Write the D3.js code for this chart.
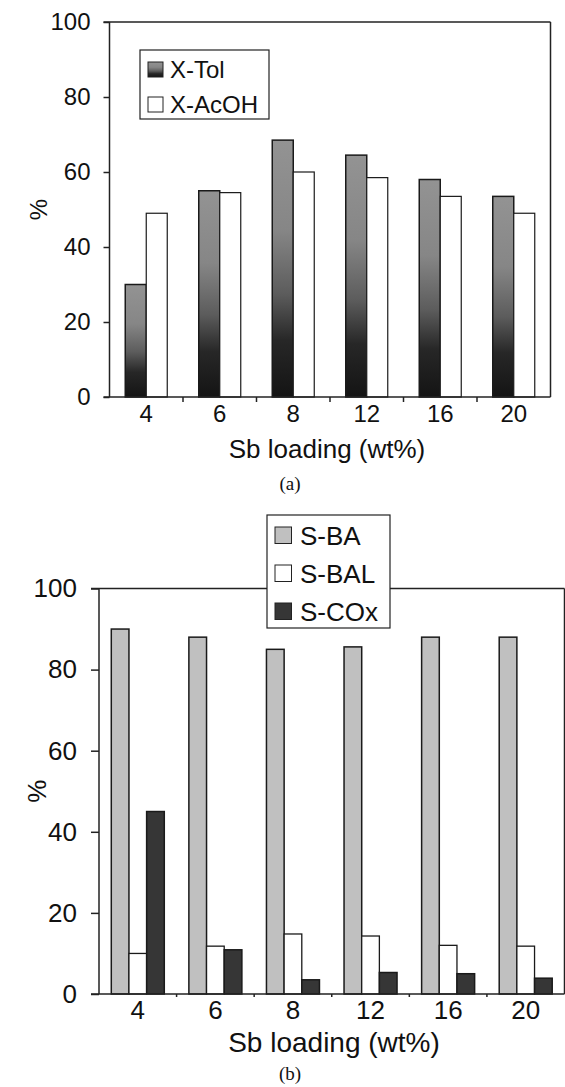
<!DOCTYPE html>
<html>
<head>
<meta charset="utf-8">
<title>Sb loading</title>
<script src="https://cdn.jsdelivr.net/npm/d3@7/dist/d3.min.js"></script>
<style>
  body { margin: 0; background: #fff; }
  svg text { font-family: "Liberation Sans", Arial, sans-serif; fill: #111; }
</style>
</head>
<body>
<svg width="565" height="1087"></svg>
<script>
// data
const loadings = ['4', '6', '8', '12', '16', '20']
const yTicks = [0, 20, 40, 60, 80, 100]
// (a) conversions
const xTol = [30, 55, 68.5, 64.5, 58, 53.5]
const xAcOH = [49, 54.5, 60, 58.5, 53.5, 49]
// (b) selectivities
const sBA = [90, 88, 85, 85.6, 88, 88]
const sBAL = [10, 11.8, 14.8, 14.3, 12, 11.8]
const sCOx = [45, 10.9, 3.5, 5.3, 5, 3.9]

const svg = d3.select('svg')

// gradient used for X-Tol bars
const grad = svg.append('defs').append('linearGradient')
  .attr('id', 'tolGrad')
  .attr('x1', 0).attr('y1', 0).attr('x2', 0).attr('y2', 1)
grad.selectAll('stop')
  .data([[0, '#939393'], [0.35, '#868686'], [0.6, '#5c5c5c'], [0.78, '#272727'], [1, '#141414']])
  .join('stop')
  .attr('offset', d => d[0])
  .attr('stop-color', d => d[1])

function drawPanel(cfg) {
  const g = svg.append('g')
  const x = d3.scaleBand().domain(loadings).range(cfg.xRange)
  const y = d3.scaleLinear().domain([0, 100]).range(cfg.yRange)
  const names = cfg.series.map(s => s.name)
  const bw = x.bandwidth()
  const x1 = d3.scaleBand().domain(names)
    .range([bw / 2 - cfg.groupWidth / 2, bw / 2 + cfg.groupWidth / 2])

  // frame: top and right lines
  g.append('line')
    .attr('x1', cfg.xRange[0] - cfg.yTick).attr('x2', cfg.xRange[1])
    .attr('y1', y(100)).attr('y2', y(100))
    .attr('stroke', '#222').attr('stroke-width', 1.5)
  g.append('line')
    .attr('x1', cfg.xRange[1]).attr('x2', cfg.xRange[1])
    .attr('y1', y(100)).attr('y2', y(0))
    .attr('stroke', '#222').attr('stroke-width', 1.5)

  // bars
  cfg.series.forEach(s => {
    g.append('g').selectAll('rect')
      .data(s.values)
      .join('rect')
      .attr('x', (d, i) => x(loadings[i]) + x1(s.name))
      .attr('y', d => y(d))
      .attr('width', x1.bandwidth())
      .attr('height', d => y(0) - y(d))
      .attr('fill', s.fill)
      .attr('stroke', '#1a1a1a')
      .attr('stroke-width', s.sw)
  })

  // y axis
  const yAxis = g.append('g')
    .attr('transform', `translate(${cfg.xRange[0]},0)`)
    .call(d3.axisLeft(y).tickValues(yTicks).tickSize(cfg.yTick).tickPadding(cfg.yPad))
  yAxis.select('.domain').attr('stroke', '#222').attr('stroke-width', 1.5)
    .attr('d', `M0,${y(0)}V${y(100)}`)
  yAxis.selectAll('.tick line').attr('stroke', '#222').attr('stroke-width', 1.5)
  yAxis.selectAll('.tick text')
    .style('font-family', '"Liberation Sans", Arial, sans-serif')
    .style('font-size', cfg.font + 'px').attr('fill', '#111')

  // x axis
  const xAxis = g.append('g')
    .attr('transform', `translate(0,${y(0)})`)
    .call(d3.axisBottom(x).tickSize(0).tickPadding(cfg.xPad))
  xAxis.select('.domain').attr('stroke', '#222').attr('stroke-width', 1.5)
    .attr('d', `M${cfg.xRange[0] - cfg.yTick},0H${cfg.xRange[1]}`)
  xAxis.selectAll('.tick text')
    .style('font-family', '"Liberation Sans", Arial, sans-serif')
    .style('font-size', cfg.font + 'px').attr('fill', '#111')
  xAxis.selectAll('.sep')
    .data(loadings.slice(1))
    .join('line')
    .attr('x1', d => x(d)).attr('x2', d => x(d))
    .attr('y1', 0).attr('y2', cfg.xTick)
    .attr('stroke', '#222').attr('stroke-width', 1.5)

  // titles
  g.append('text')
    .attr('x', cfg.titleX).attr('y', cfg.titleY)
    .attr('text-anchor', 'middle')
    .style('font-size', cfg.titleFont + 'px')
    .text('Sb loading (wt%)')
  g.append('text')
    .attr('transform', `translate(${cfg.pctX},${(y(0) + y(100)) / 2}) rotate(-90)`)
    .attr('text-anchor', 'middle').attr('dy', '0.35em')
    .style('font-size', cfg.font + 'px')
    .text('%')
  g.append('text')
    .attr('x', 290).attr('y', cfg.capY)
    .attr('text-anchor', 'middle')
    .style('font-family', '"Liberation Serif", "Times New Roman", serif')
    .style('font-size', '19px')
    .text(cfg.caption)

  // legend
  const L = cfg.legend
  g.append('rect')
    .attr('x', L.x).attr('y', L.y).attr('width', L.w).attr('height', L.h)
    .attr('fill', '#fff').attr('stroke', '#222').attr('stroke-width', 1.2)
  const items = g.append('g').selectAll('g')
    .data(cfg.series)
    .join('g')
    .attr('transform', (d, i) => `translate(${L.x},${L.y + L.top + i * L.step})`)
  items.append('rect')
    .attr('x', L.sx).attr('y', 0).attr('width', L.size).attr('height', L.size)
    .attr('fill', d => d.fill).attr('stroke', '#222').attr('stroke-width', 1)
  items.append('text')
    .attr('x', L.tx).attr('y', L.size + 1)
    .style('font-size', L.font + 'px')
    .text(d => d.name)
}

drawPanel({
  xRange: [109.5, 550.5], yRange: [397, 22],
  groupWidth: 42, yTick: 6, yPad: 13, xTick: 5, xPad: 8, font: 24,
  titleX: 327, titleY: 458, titleFont: 26, pctX: 39,
  capY: 490, caption: '(a)',
  series: [
    { name: 'X-Tol', values: xTol, fill: 'url(#tolGrad)', sw: 1.5 },
    { name: 'X-AcOH', values: xAcOH, fill: '#fff', sw: 1.2 }
  ],
  legend: { x: 140, y: 50, w: 129, h: 69, top: 12, step: 35, sx: 8, size: 15, tx: 30, font: 24 }
})

drawPanel({
  xRange: [99, 564.5], yRange: [994, 588.5],
  groupWidth: 53, yTick: 8, yPad: 14, xTick: 3, xPad: 7, font: 26,
  titleX: 334, titleY: 1052, titleFont: 28, pctX: 37,
  capY: 1080, caption: '(b)',
  series: [
    { name: 'S-BA', values: sBA, fill: '#c0c0c0', sw: 1.5 },
    { name: 'S-BAL', values: sBAL, fill: '#fff', sw: 1.3 },
    { name: 'S-COx', values: sCOx, fill: '#363636', sw: 1.5 }
  ],
  legend: { x: 267, y: 515, w: 123, h: 113, top: 12, step: 38, sx: 8, size: 16.5, tx: 33, font: 26 }
})
</script>
</body>
</html>
